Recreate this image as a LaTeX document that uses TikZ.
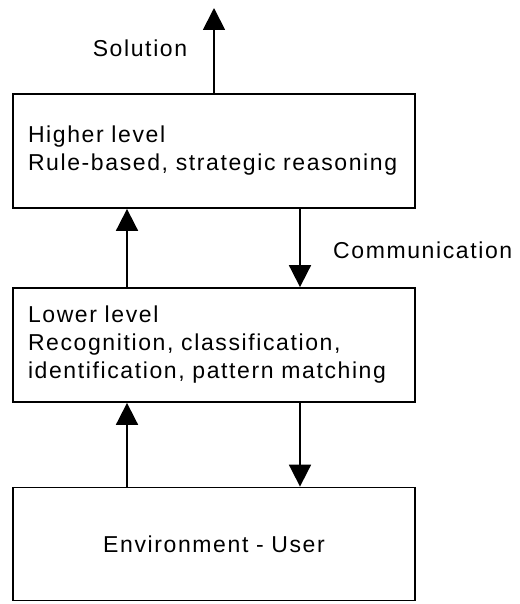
\documentclass[tikz,border=0pt]{standalone}
\usepackage{fontspec}
\setmainfont{Liberation Sans}[LetterSpace=7]
\usetikzlibrary{arrows.meta}
\begin{document}
\begin{tikzpicture}[x=1pt,y=-1pt,
  lvlbox/.style={draw,line width=1.8pt,minimum width=402pt,text width=372pt,inner sep=0pt,align=left,font=\fontsize{23}{28}\selectfont},
  lbl/.style={font=\fontsize{23}{28}\selectfont,inner sep=0pt},
  arr/.style={line width=1.8pt,-{Triangle[length=22pt,width=22pt]}}]
\useasboundingbox (0,0) rectangle (519,604);
\node[lvlbox,minimum height=114pt] (top) at (214,151) {Higher level\\Rule-based, strategic reasoning};
\node[lvlbox,minimum height=114pt] (mid) at (214,345) {Lower level\\Recognition, classification,\\identification, pattern matching};
\node[lvlbox,minimum height=113pt,align=center] (env) at (214,544) {Environment - User};
\coordinate (sol) at (214,8);
\coordinate (cl) at (127,0);
\coordinate (cr) at (300,0);
\draw[arr] (top.north -| sol) -- (sol);
\draw[arr] (mid.north -| cl) -- (top.south -| cl);
\draw[arr] (top.south -| cr) -- (mid.north -| cr);
\draw[arr] (env.north -| cl) -- (mid.south -| cl);
\draw[arr] (mid.south -| cr) -- (env.north -| cr);
\node[lbl] (soltxt) at (140,48) {Solution};
\node[lbl,anchor=west] (comm) at (333,250) {Communication};
\end{tikzpicture}
\end{document}
